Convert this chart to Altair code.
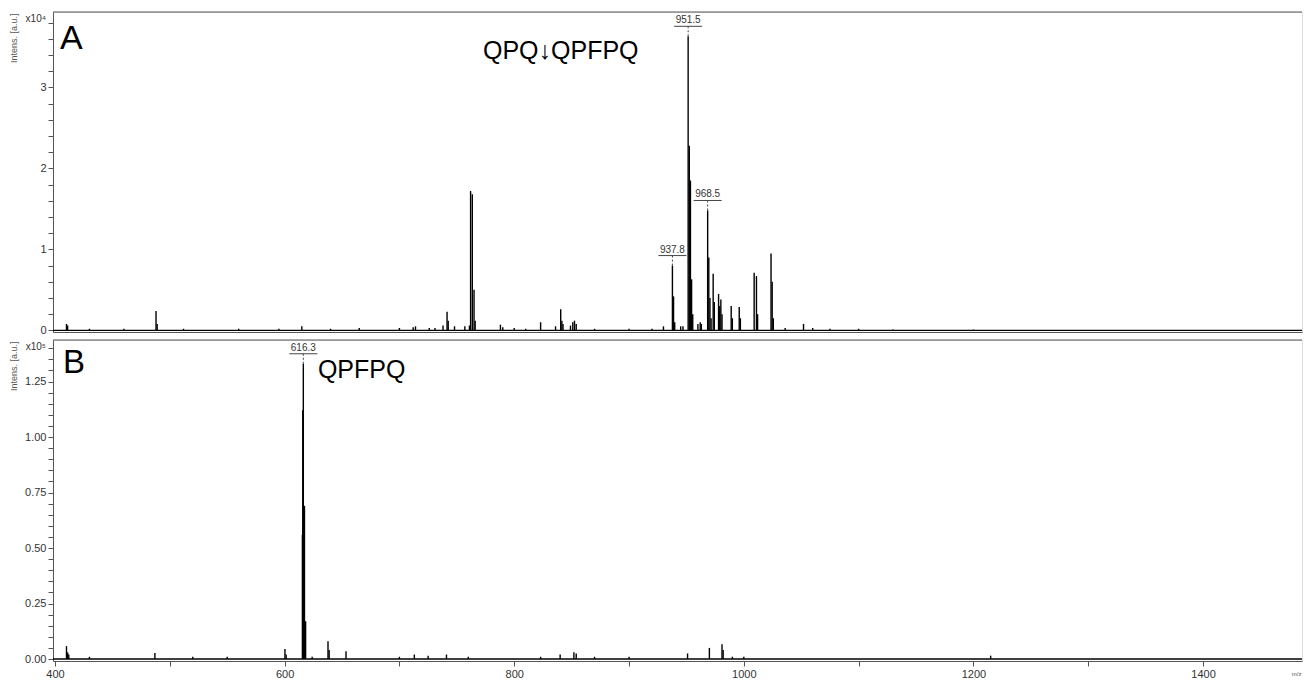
import altair as alt
import pandas as pd

# ---------------- data ----------------
# Panel A: m/z of peaks and intensities (a.u.)
A_mz = [410, 411, 430, 460, 488, 489, 512, 560, 595, 615, 640, 665, 700, 712, 714, 726, 731, 738,
        741.5, 742.5, 748, 757, 761, 762.0, 763.5, 765.0, 766.0, 788, 790, 800, 810, 823, 836,
        840.5, 841.5, 842.5, 849, 851, 852.5, 854, 870, 900, 920, 930, 937.8, 938.8, 939.8, 945,
        947, 951.5, 952.5, 953.5, 954.5, 955.5, 960, 962, 963, 968.5, 969.5, 970.5, 971.5, 973.3,
        974.3, 978, 979, 980, 981, 989, 990, 996, 997, 1009, 1011, 1012, 1023.7, 1024.7, 1025.7,
        1036, 1052, 1060, 1075, 1100, 1130, 1200]
A_int = [800, 600, 200, 200, 2400, 800, 200, 200, 200, 500, 200, 300, 300, 400, 500, 300, 300, 600,
         2300, 1200, 500, 500, 600, 17200, 16800, 5000, 1200, 700, 400, 300, 200, 1000, 500,
         2600, 1200, 800, 600, 1000, 1200, 800, 200, 200, 200, 500, 8000, 4200, 1000, 500,
         500, 36300, 22800, 18500, 6300, 2000, 800, 1000, 800, 14800, 9000, 4000, 1500, 7000,
         3500, 4500, 3000, 3800, 2000, 3000, 1500, 2900, 1500, 7100, 6700, 2000, 9500, 6000, 1500,
         300, 800, 300, 200, 200, 100, 100]

# Panel B
B_mz = [410, 411, 412, 430, 487, 520, 550, 600.3, 601.3, 615.5, 615.8, 616.3, 617.3, 618.3, 624,
        637.8, 638.8, 653.5, 700, 713, 725, 741, 760, 823, 840, 852, 854, 870, 900, 951, 970,
        981, 982, 990, 1000, 1215]
B_int = [5800, 3000, 2000, 1000, 2700, 1000, 1000, 4500, 2000, 56000, 112000, 133000, 69000, 17000,
         1000, 8000, 4000, 3500, 1000, 2000, 1500, 2000, 1000, 1000, 2000, 3000, 2500, 1000, 1000,
         2500, 5000, 6700, 4000, 1000, 1000, 1500]

# Labelled peaks
A_lab_mz = [937.8, 951.5, 968.5]
A_lab_int = [8000, 36300, 14800]
B_lab_mz = [616.3]
B_lab_int = [133000]

# Panel annotations
A_ann_text = ["A", "QPQ\u2193QPFPQ"]
A_ann_mz = [404.4, 772.8]
A_ann_int = [36000, 34500]
B_ann_text = ["B", "QPFPQ"]
B_ann_mz = [407.0, 629.0]
B_ann_int = [133500, 130000]

X_DOMAIN = [398.26, 1486.2]
X_TICKS = list(range(400, 1500, 100))
A_DOMAIN = [-200, 39300]
A_TICKS = list(range(0, 39300, 2000))
B_DOMAIN = [-900, 143700]
B_TICKS = list(range(0, 143700, 5000))

# ---------------- styling ----------------
W = 1249
H_A = 320
H_B = 321
GAP = 10
FONT = "Liberation Sans"
AX_COL = "#555555"
LAB_COL = "#333333"

dfA = pd.DataFrame({"mz": A_mz, "int": A_int})
dfB = pd.DataFrame({"mz": B_mz, "int": B_int})
dfLA = pd.DataFrame({"mz": A_lab_mz, "int": A_lab_int, "lab": [f"{v:.1f}" for v in A_lab_mz]})
dfLB = pd.DataFrame({"mz": B_lab_mz, "int": B_lab_int, "lab": [f"{v:.1f}" for v in B_lab_mz]})


def x_axis(labels):
    if labels:
        return alt.Axis(values=X_TICKS, format="d",
                        labelExpr="datum.value % 200 == 0 ? datum.label : ''",
                        labelFlush=False, labelOverlap=False, labelFont=FONT, labelFontSize=11,
                        labelColor=LAB_COL, labelPadding=2, tickSize=5, tickColor=AX_COL,
                        domainColor=AX_COL, grid=False, title="m/z", titleFontSize=6,
                        titleFont=FONT, titleFontWeight="normal", titleColor=AX_COL,
                        titleAnchor="end", titleAlign="right", titleX=W - 1, titleY=9,
                        titleBaseline="top")
    return alt.Axis(values=X_TICKS, labels=False, ticks=False, domainColor=AX_COL,
                    grid=False, title=None)


def y_axis(ticks, expr):
    return alt.Axis(values=ticks, labelExpr=expr, labelOverlap=False, labelFlush=False,
                    labelFont=FONT, labelFontSize=11, labelColor=LAB_COL, labelPadding=2,
                    tickSize=5, tickColor=AX_COL, domainColor=AX_COL, grid=False,
                    title="Intens. [a.u.]", titleFont=FONT, titleFontSize=9,
                    titleFontWeight="normal", titleColor=AX_COL, titleAngle=270,
                    titleAlign="right", titleBaseline="middle", titleX=-40, titleY=1)


def panel(df, dfl, ann_text, ann_mz, ann_int, ydom, yticks, yexpr, expo, bottom_labels,
          big_size, small_size, h):
    xs = alt.Scale(domain=X_DOMAIN, nice=False, zero=False)
    ys = alt.Scale(domain=ydom, nice=False, zero=False)
    X = alt.X("mz:Q", scale=xs, axis=x_axis(bottom_labels))
    Y = alt.Y("int:Q", scale=ys, axis=y_axis(yticks, yexpr))

    sticks = alt.Chart(df).mark_rule(color="black", strokeWidth=1.4).encode(
        x=X, y=Y, y2=alt.datum(0))
    base = alt.Chart(pd.DataFrame({"mz": [X_DOMAIN[0]], "int": [0]})).mark_rule(
        color="black", strokeWidth=1.4).encode(y=Y)
    top = alt.Chart(pd.DataFrame({"mz": [X_DOMAIN[0]], "int": [ydom[1]]})).mark_rule(
        color=AX_COL, strokeWidth=1).encode(y=Y)

    lab = alt.Chart(dfl)
    dash = lab.mark_rule(color="#444444", strokeWidth=1, strokeDash=[2, 2],
                         y2Offset=-GAP).encode(x=X, y=Y, y2="int:Q")
    under = lab.mark_rule(color="#444444", strokeWidth=1, xOffset=-14, x2Offset=14,
                          yOffset=-GAP).encode(x=X, x2="mz:Q", y=Y)
    txt = lab.mark_text(font=FONT, fontSize=10, color="#333333", baseline="bottom",
                        dy=-(GAP + 1)).encode(x=X, y=Y, text="lab:N")

    ann = pd.DataFrame({"mz": ann_mz, "int": ann_int, "t": ann_text})
    a1 = alt.Chart(ann.iloc[[0]]).mark_text(font=FONT, fontSize=big_size, align="left",
                                            baseline="middle", color="black").encode(
        x=X, y=Y, text="t:N")
    a2 = alt.Chart(ann.iloc[[1]]).mark_text(font=FONT, fontSize=small_size, align="left",
                                            baseline="middle", color="black").encode(
        x=X, y=Y, text="t:N")
    ex = alt.Chart(pd.DataFrame({"t": [expo]})).mark_text(
        font=FONT, fontSize=10, align="right", baseline="middle", color=LAB_COL).encode(
        x=alt.value(-7), y=alt.value(7), text="t:N")

    return alt.layer(sticks, base, top, dash, under, txt, a1, a2, ex).properties(
        width=W, height=h)


pA = panel(dfA, dfLA, A_ann_text, A_ann_mz, A_ann_int, A_DOMAIN, A_TICKS,
           "datum.value % 10000 == 0 ? format(datum.value / 10000, 'd') : ''",
           "x10\u2074", False, 34, 25, H_A)
pB = panel(dfB, dfLB, B_ann_text, B_ann_mz, B_ann_int, B_DOMAIN, B_TICKS,
           "datum.value % 25000 == 0 ? format(datum.value / 100000, '.2f') : ''",
           "x10\u2075", True, 33, 25, H_B)

chart = alt.vconcat(pA, pB, spacing=3).properties(
    padding={"left": 0, "top": 3, "right": 0, "bottom": 0}
).configure_view(stroke=None).configure(background="white")

chart.save("out.html", embed_options={"renderer": "svg", "actions": False})
